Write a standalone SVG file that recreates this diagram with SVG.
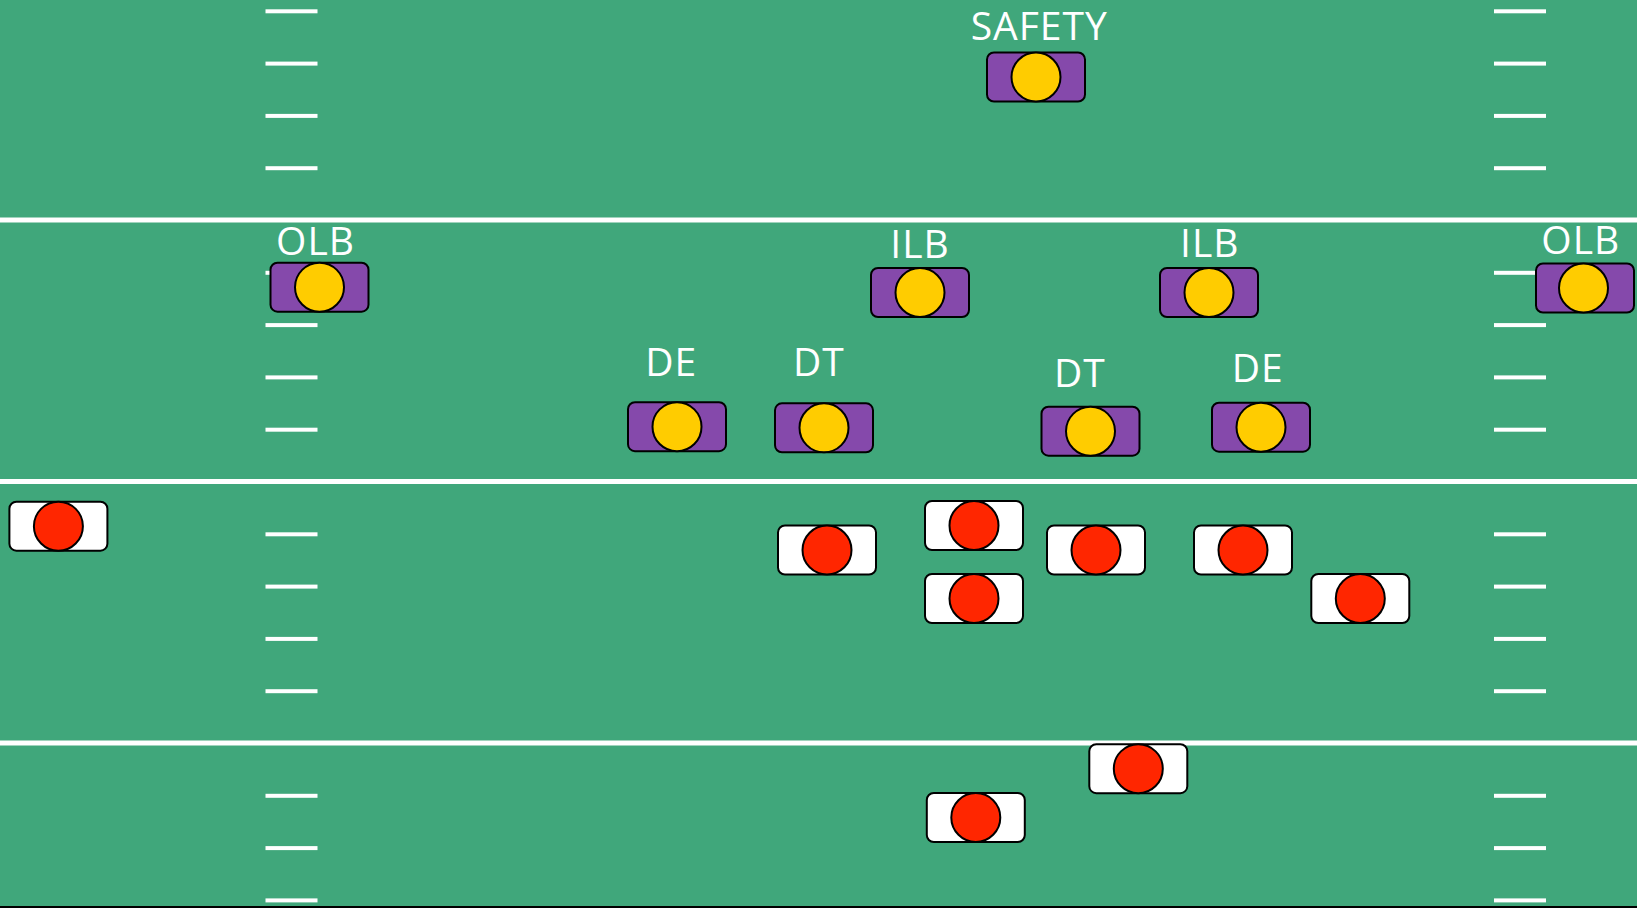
<svg xmlns="http://www.w3.org/2000/svg" width="1637" height="908" viewBox="0 0 1637 908">
<style>
.field{fill:#40A77B}
.yard{fill:#FFFFFF}
.dbox{fill:#8549AB;stroke:#000;stroke-width:2}
.ddot{fill:#FFCC00;stroke:#000;stroke-width:2}
.obox{fill:#FFFFFF;stroke:#000;stroke-width:2}
.odot{fill:#FF2600;stroke:#000;stroke-width:2}
.lbl{font-family:"Open Sans","Liberation Sans",sans-serif;font-size:39px;letter-spacing:1px;fill:#FFFFFF;text-anchor:middle}
</style>
<defs>
<g id="ticks">
<rect x="0" y="9.3" width="52" height="4"/>
<rect x="0" y="61.6" width="52" height="4"/>
<rect x="0" y="113.9" width="52" height="4"/>
<rect x="0" y="166.2" width="52" height="4"/>
<rect x="0" y="270.8" width="52" height="4"/>
<rect x="0" y="323.1" width="52" height="4"/>
<rect x="0" y="375.4" width="52" height="4"/>
<rect x="0" y="427.7" width="52" height="4"/>
<rect x="0" y="532.3" width="52" height="4"/>
<rect x="0" y="584.6" width="52" height="4"/>
<rect x="0" y="636.9" width="52" height="4"/>
<rect x="0" y="689.2" width="52" height="4"/>
<rect x="0" y="793.8" width="52" height="4"/>
<rect x="0" y="846.1" width="52" height="4"/>
<rect x="0" y="898.4" width="52" height="4"/>
</g>
</defs>
<g id="field">
<rect class="field" x="0" y="0" width="1637" height="908"/>
<rect class="yard" x="0" y="217.5" width="1637" height="5"/>
<rect class="yard" x="0" y="479" width="1637" height="5"/>
<rect class="yard" x="0" y="740.5" width="1637" height="5"/>
<g fill="#FFFFFF">
<use href="#ticks" x="265.5"/>
<use href="#ticks" x="1494"/>
</g>
<rect x="0" y="906" width="1637" height="2" fill="#000"/>
</g>
<g id="labels">
<text class="lbl" x="1039.2" y="39.5">SAFETY</text>
<text class="lbl" x="315.5" y="255">OLB</text>
<text class="lbl" x="1580.8" y="254">OLB</text>
<text class="lbl" x="920" y="258.3">ILB</text>
<text class="lbl" x="1209.8" y="256.7">ILB</text>
<text class="lbl" x="671.2" y="376">DE</text>
<text class="lbl" x="818.8" y="376">DT</text>
<text class="lbl" x="1079.8" y="387.3">DT</text>
<text class="lbl" x="1257.8" y="381.7">DE</text>
</g>
<g id="defense">
<g id="safety" transform="translate(1036,77)"><rect class="dbox" x="-49" y="-24.5" width="98" height="49" rx="7"/><circle class="ddot" r="24.5"/></g>
<g id="olb-left" transform="translate(319.5,287.2)"><rect class="dbox" x="-49" y="-24.5" width="98" height="49" rx="7"/><circle class="ddot" r="24.5"/></g>
<g id="olb-right" transform="translate(1585,288)"><rect class="dbox" x="-49" y="-24.5" width="98" height="49" rx="7"/><circle class="ddot" cx="-1.5" r="24.5"/></g>
<g id="ilb-left" transform="translate(920,292.5)"><rect class="dbox" x="-49" y="-24.5" width="98" height="49" rx="7"/><circle class="ddot" r="24.5"/></g>
<g id="ilb-right" transform="translate(1209,292.5)"><rect class="dbox" x="-49" y="-24.5" width="98" height="49" rx="7"/><circle class="ddot" r="24.5"/></g>
<g id="de-left" transform="translate(677,426.7)"><rect class="dbox" x="-49" y="-24.5" width="98" height="49" rx="7"/><circle class="ddot" r="24.5"/></g>
<g id="dt-left" transform="translate(824,427.8)"><rect class="dbox" x="-49" y="-24.5" width="98" height="49" rx="7"/><circle class="ddot" r="24.5"/></g>
<g id="dt-right" transform="translate(1090.5,431.2)"><rect class="dbox" x="-49" y="-24.5" width="98" height="49" rx="7"/><circle class="ddot" r="24.5"/></g>
<g id="de-right" transform="translate(1261,427.2)"><rect class="dbox" x="-49" y="-24.5" width="98" height="49" rx="7"/><circle class="ddot" r="24.5"/></g>
</g>
<g id="offense">
<g id="off-1" transform="translate(58.4,526.2)"><rect class="obox" x="-49" y="-24.5" width="98" height="49" rx="7"/><circle class="odot" r="24.5"/></g>
<g id="off-2" transform="translate(827,550)"><rect class="obox" x="-49" y="-24.5" width="98" height="49" rx="7"/><circle class="odot" r="24.5"/></g>
<g id="off-3" transform="translate(974,525.5)"><rect class="obox" x="-49" y="-24.5" width="98" height="49" rx="7"/><circle class="odot" r="24.5"/></g>
<g id="off-4" transform="translate(974,598.5)"><rect class="obox" x="-49" y="-24.5" width="98" height="49" rx="7"/><circle class="odot" r="24.5"/></g>
<g id="off-5" transform="translate(1096,550)"><rect class="obox" x="-49" y="-24.5" width="98" height="49" rx="7"/><circle class="odot" r="24.5"/></g>
<g id="off-6" transform="translate(1243,550)"><rect class="obox" x="-49" y="-24.5" width="98" height="49" rx="7"/><circle class="odot" r="24.5"/></g>
<g id="off-7" transform="translate(1360.3,598.5)"><rect class="obox" x="-49" y="-24.5" width="98" height="49" rx="7"/><circle class="odot" r="24.5"/></g>
<g id="off-8" transform="translate(1138.3,768.7)"><rect class="obox" x="-49" y="-24.5" width="98" height="49" rx="7"/><circle class="odot" r="24.5"/></g>
<g id="off-9" transform="translate(975.8,817.5)"><rect class="obox" x="-49" y="-24.5" width="98" height="49" rx="7"/><circle class="odot" r="24.5"/></g>
</g>
<g id="connectors"/>
</svg>
